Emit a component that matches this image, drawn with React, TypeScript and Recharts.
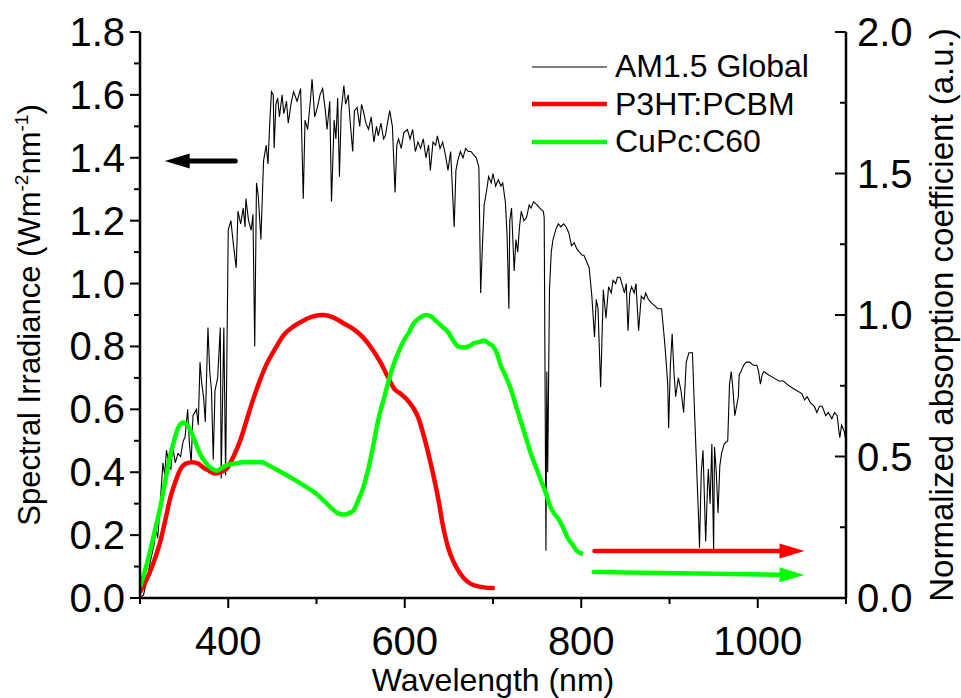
import React from "react";
import { LineChart, Line, XAxis, YAxis, Legend, ReferenceLine } from "recharts";

const FONT = '"Liberation Sans", Arial, Helvetica, sans-serif';

// AM1.5 Global solar spectrum (left axis, W m^-2 nm^-1)
const amWavelength = [
  300, 304, 308, 312, 316, 318, 320, 322, 324, 326, 328, 330, 333, 335, 337, 340, 343, 346, 349, 351,
  354, 356, 358, 360, 364, 366, 368, 370, 372, 374, 377, 379, 381, 383, 385, 388, 391, 392, 395, 397,
  400, 403, 406, 409, 411, 414, 417, 419, 420, 423, 426, 428, 430, 432, 434, 437, 440, 443, 445, 447,
  449, 451, 452, 454, 456, 458, 461, 463, 466, 468, 471, 474, 478, 482, 485, 487, 490, 493, 495, 498,
  501, 504, 507, 510, 512, 515, 517, 520, 522, 524, 526, 528, 531, 533, 536, 538, 541, 543, 546, 549,
  551, 553, 556, 559, 562, 565, 568, 570, 573, 576, 578, 581, 583, 586, 589, 591, 593, 596, 599, 603,
  606, 609, 612, 615, 618, 621, 624, 627, 629, 632, 635, 637, 640, 643, 646, 649, 652, 656, 658, 660,
  663, 666, 669, 672, 675, 678, 681, 684, 686, 688, 690, 693, 695, 698, 700, 703, 706, 709, 711, 714,
  716, 718, 719, 721, 724, 726, 728, 730, 732, 735, 738, 741, 743, 746, 750, 753, 757, 758, 760, 761,
  762, 764, 766, 768, 771, 774, 777, 780, 783, 786, 789, 792, 795, 798, 801, 803, 806, 809, 812, 815,
  817, 819, 822, 825, 828, 831, 834, 836, 839, 841, 844, 847, 849, 851, 853, 855, 857, 860, 862, 865,
  868, 871, 873, 876, 879, 883, 887, 891, 894, 896, 898, 899, 901, 903, 905, 907, 910, 913, 916, 919,
  922, 926, 928, 930, 933, 934, 936, 938, 941, 943, 944, 946, 948, 950, 951, 953, 955, 957, 959, 962,
  966, 968, 970, 972, 974, 976, 978, 979, 981, 984, 987, 991, 995, 999, 1001, 1003, 1005, 1007, 1012, 1018,
  1024, 1029, 1033, 1038, 1044, 1050, 1053, 1056, 1060, 1064, 1067, 1070, 1073, 1077, 1080, 1084, 1087, 1090, 1092, 1093,
  1095, 1098, 1100,
];
const amIrradiance = [
  0.0, 0.01, 0.06, 0.12, 0.17, 0.22, 0.19, 0.26, 0.35, 0.43, 0.39, 0.47, 0.42, 0.41, 0.48, 0.43, 0.46, 0.45, 0.5, 0.51,
  0.6, 0.49, 0.43, 0.58, 0.6, 0.55, 0.75, 0.68, 0.64, 0.56, 0.86, 0.72, 0.66, 0.44, 0.66, 0.7, 0.86, 0.38, 0.86, 0.39,
  1.17, 1.2, 1.12, 1.05, 1.23, 1.19, 1.24, 1.18, 1.27, 1.2, 1.17, 1.22, 0.8, 1.32, 1.28, 1.14, 1.39, 1.44, 1.38, 1.51,
  1.61, 1.6, 1.43, 1.57, 1.59, 1.53, 1.6, 1.54, 1.58, 1.51, 1.57, 1.61, 1.58, 1.62, 1.27, 1.52, 1.49, 1.58, 1.65, 1.53,
  1.56, 1.6, 1.62, 1.55, 1.49, 1.58, 1.26, 1.52, 1.46, 1.59, 1.34, 1.55, 1.63, 1.57, 1.6, 1.52, 1.42, 1.55, 1.56, 1.5,
  1.57, 1.55, 1.51, 1.49, 1.53, 1.45, 1.5, 1.47, 1.51, 1.46, 1.47, 1.52, 1.55, 1.5, 1.29, 1.44, 1.46, 1.43, 1.48, 1.49,
  1.46, 1.49, 1.42, 1.45, 1.43, 1.46, 1.4, 1.44, 1.36, 1.45, 1.44, 1.47, 1.43, 1.45, 1.41, 1.36, 1.42, 1.18, 1.36, 1.39,
  1.42, 1.4, 1.43, 1.42, 1.42, 1.41, 1.4, 1.37, 0.97, 1.12, 1.25, 1.3, 1.34, 1.32, 1.35, 1.31, 1.33, 1.31, 1.32, 1.26,
  1.15, 0.92, 1.2, 1.24, 1.04, 1.14, 1.1, 1.18, 1.23, 1.2, 1.21, 1.25, 1.24, 1.26, 1.25, 1.24, 1.23, 1.21, 0.15, 0.72,
  0.4, 0.98, 1.1, 1.14, 1.17, 1.19, 1.18, 1.19, 1.18, 1.16, 1.12, 1.13, 1.11, 1.1, 1.09, 1.09, 1.07, 1.05, 0.96, 0.83,
  0.95, 0.92, 0.67, 0.98, 0.89, 0.99, 0.97, 1.01, 1.0, 1.02, 1.02, 0.99, 0.97, 1.0, 0.85, 0.97, 0.99, 0.97, 1.0, 0.85,
  0.96, 0.95, 0.97, 0.95, 0.94, 0.93, 0.92, 0.92, 0.83, 0.76, 0.68, 0.54, 0.74, 0.84, 0.72, 0.64, 0.7, 0.66, 0.59, 0.75,
  0.78, 0.78, 0.62, 0.47, 0.25, 0.16, 0.4, 0.47, 0.18, 0.35, 0.41, 0.3, 0.49, 0.15, 0.48, 0.4, 0.27, 0.42, 0.46, 0.49,
  0.5, 0.68, 0.72, 0.66, 0.58, 0.61, 0.64, 0.71, 0.72, 0.74, 0.75, 0.75, 0.74, 0.74, 0.72, 0.68, 0.71, 0.72, 0.71, 0.7,
  0.69, 0.69, 0.68, 0.67, 0.66, 0.65, 0.63, 0.64, 0.62, 0.61, 0.59, 0.61, 0.61, 0.58, 0.59, 0.57, 0.59, 0.58, 0.53, 0.51,
  0.55, 0.53, 0.5,
];

// P3HT:PCBM normalized absorption (right axis)
const p3htWavelength = [
  300, 305, 311, 317, 323, 329, 334, 340, 345, 352, 359, 366, 372, 378, 385, 392, 399, 406, 414, 421,
  428, 436, 444, 453, 463, 474, 485, 496, 508, 520, 531, 542, 553, 563, 573, 581, 588, 596, 603, 610,
  615, 621, 626, 632, 638, 643, 649, 655, 660, 667, 675, 685, 698, 702,
];
const p3htAbsorption = [
  0.02, 0.05, 0.09, 0.14, 0.2, 0.28, 0.35, 0.41, 0.45, 0.475, 0.48, 0.475, 0.46, 0.45, 0.44, 0.445, 0.46, 0.5, 0.56, 0.63,
  0.7, 0.77, 0.83, 0.88, 0.93, 0.96, 0.98, 0.995, 1.0, 0.99, 0.97, 0.95, 0.92, 0.88, 0.83, 0.78, 0.74, 0.72, 0.7, 0.67,
  0.64, 0.58, 0.52, 0.44, 0.35, 0.26, 0.18, 0.13, 0.1, 0.07, 0.05, 0.04, 0.035, 0.035,
];

// CuPc:C60 normalized absorption (right axis)
const cupcWavelength = [
  300, 305, 311, 317, 323, 329, 334, 339, 343, 349, 354, 359, 364, 368, 374, 380, 387, 393, 399, 408,
  417, 428, 438, 445, 451, 463, 474, 487, 499, 508, 516, 524, 531, 537, 542, 548, 553, 559, 565, 570,
  576, 582, 588, 593, 599, 605, 610, 617, 624, 630, 635, 642, 649, 655, 660, 667, 673, 678, 685, 690,
  695, 700, 705, 709, 715, 720, 726, 732, 738, 743, 749, 755, 760, 764, 769, 774, 780, 785, 790, 794,
  798, 802,
];
const cupcAbsorption = [
  0.04, 0.09, 0.16, 0.24, 0.32, 0.42, 0.5, 0.56, 0.6, 0.62, 0.61, 0.58, 0.54, 0.51, 0.48, 0.46, 0.45, 0.46, 0.47, 0.475,
  0.48, 0.48, 0.48, 0.47, 0.46, 0.44, 0.42, 0.395, 0.37, 0.345, 0.32, 0.3, 0.295, 0.3, 0.31, 0.35, 0.39, 0.46, 0.55, 0.63,
  0.7, 0.77, 0.83, 0.87, 0.91, 0.94, 0.97, 0.99, 1.0, 0.995, 0.98, 0.96, 0.94, 0.91, 0.89, 0.885, 0.89, 0.9, 0.905, 0.91,
  0.9, 0.89, 0.86, 0.82, 0.78, 0.74, 0.68, 0.62, 0.56, 0.51, 0.46, 0.41, 0.37, 0.33, 0.3, 0.28, 0.245, 0.21, 0.19, 0.17,
  0.16, 0.155,
];

// axis ticks
const xTicks = [300, 400, 500, 600, 700, 800, 900, 1000, 1100];
const xLabelled = [400, 600, 800, 1000];
const leftTicks = [0, 0.1, 0.2, 0.3, 0.4, 0.5, 0.6, 0.7, 0.8, 0.9, 1.0, 1.1, 1.2, 1.3, 1.4, 1.5, 1.6, 1.7, 1.8];
const rightTicks = [0, 0.25, 0.5, 0.75, 1.0, 1.25, 1.5, 1.75, 2.0];

// arrows: [start nm, start value] -> [end nm, end value]
const leftArrow = [
  { x: 408, y: 1.39 },
  { x: 328, y: 1.39 },
];
const redArrow = [
  { x: 815, y: 0.166 },
  { x: 1053, y: 0.166 },
];
const greenArrow = [
  { x: 814, y: 0.092 },
  { x: 1053, y: 0.081 },
];

const seriesNames = ["AM1.5 Global", "P3HT:PCBM", "CuPc:C60"];
const seriesColors = ["#000000", "#ff0000", "#00ff00"];
const seriesWidths = [1.1, 4.5, 4.5];

const toPoints = (xs: number[], ys: number[]) => xs.map((nm, i) => ({ nm, v: ys[i] }));
const amData = toPoints(amWavelength, amIrradiance);
const p3htData = toPoints(p3htWavelength, p3htAbsorption);
const cupcData = toPoints(cupcWavelength, cupcAbsorption);

const BottomTick = (props: any) => {
  const { x, y, payload } = props;
  const major = xLabelled.includes(payload.value);
  return (
    <g>
      <line x1={x} x2={x} y1={y} y2={y + (major ? 10 : 6)} stroke="#000" strokeWidth={2} />
      {major && (
        <text x={x} y={y} dy={57} textAnchor="middle" fontSize={40} fontFamily={FONT} fill="#000">
          {payload.value}
        </text>
      )}
    </g>
  );
};

const TopTick = (props: any) => {
  const { x, y, payload } = props;
  const major = xLabelled.includes(payload.value);
  return <line x1={x} x2={x} y1={y} y2={y + (major ? 11 : 6)} stroke="#000" strokeWidth={2} />;
};

const LeftTick = (props: any) => {
  const { x, y, payload } = props;
  const v = payload.value as number;
  const major = Math.round(v * 10) % 2 === 0;
  return (
    <g>
      <line x1={x - (major ? 10 : 6)} x2={x} y1={y} y2={y} stroke="#000" strokeWidth={2} />
      {major && (
        <text x={x - 15} y={y} dy={14} textAnchor="end" fontSize={40} fontFamily={FONT} fill="#000">
          {v.toFixed(1)}
        </text>
      )}
    </g>
  );
};

const RightTick = (props: any) => {
  const { x, y, payload } = props;
  const v = payload.value as number;
  const major = Math.round(v * 100) % 50 === 0;
  return (
    <g>
      <line x1={x - (major ? 11 : 6)} x2={x} y1={y} y2={y} stroke="#000" strokeWidth={2} />
      {major && (
        <text x={x + 11} y={y} dy={14} textAnchor="start" fontSize={40} fontFamily={FONT} fill="#000">
          {v.toFixed(1)}
        </text>
      )}
    </g>
  );
};

function arrowShape(color: string, width: number) {
  return (props: any) => {
    const { x1, y1, x2, y2 } = props;
    const ang = Math.atan2(y2 - y1, x2 - x1);
    const len = 25;
    const half = 7.5;
    const bx = x2 - len * Math.cos(ang);
    const by = y2 - len * Math.sin(ang);
    const px = -Math.sin(ang) * half;
    const py = Math.cos(ang) * half;
    return (
      <g>
        <line x1={x1} y1={y1} x2={bx} y2={by} stroke={color} strokeWidth={width} strokeLinecap="round" />
        <polygon points={`${x2},${y2} ${bx + px},${by + py} ${bx - px},${by - py}`} fill={color} />
      </g>
    );
  };
}

const renderLegend = (props: any) => {
  // keep the series order, not the alphabetical one
  const items = [...(props.payload || [])].sort(
    (a: any, b: any) => seriesNames.indexOf(a.value) - seriesNames.indexOf(b.value)
  );
  return (
    <div style={{ fontFamily: FONT, fontSize: 32, color: "#000" }}>
      {items.map((entry: any, i: number) => {
        const idx = seriesNames.indexOf(entry.value);
        return (
          <div key={i} style={{ display: "flex", alignItems: "center", height: 37.5 }}>
            <svg width={75} height={12} style={{ display: "block" }}>
              <line x1={0} y1={6} x2={75} y2={6} stroke={seriesColors[idx]} strokeWidth={seriesWidths[idx]} />
            </svg>
            <span style={{ marginLeft: 8, lineHeight: "37.5px" }}>{entry.value}</span>
          </div>
        );
      })}
    </div>
  );
};

const XTitle = (props: any) => {
  const vb = props.viewBox;
  return (
    <text x={vb.x + vb.width / 2} y={vb.y + 93} textAnchor="middle" fontSize={32} fontFamily={FONT} fill="#000">
      Wavelength (nm)
    </text>
  );
};

const LeftTitle = (props: any) => {
  const vb = props.viewBox;
  const cx = vb.x + 40;
  const cy = vb.y + vb.height / 2;
  return (
    <text
      x={cx}
      y={cy}
      transform={`rotate(-90 ${cx} ${cy})`}
      textAnchor="middle"
      fontSize={31}
      fontFamily={FONT}
      fill="#000"
    >
      Spectral Irradiance (Wm
      <tspan fontSize={19} dy={-12}>-2</tspan>
      <tspan dy={12}>nm</tspan>
      <tspan fontSize={19} dy={-12}>-1</tspan>
      <tspan dy={12}>)</tspan>
    </text>
  );
};

const RightTitle = (props: any) => {
  const vb = props.viewBox;
  const cx = vb.x + 107;
  const cy = vb.y + vb.height / 2;
  return (
    <text
      x={cx}
      y={cy}
      transform={`rotate(-90 ${cx} ${cy})`}
      textAnchor="middle"
      fontSize={33}
      fontFamily={FONT}
      fill="#000"
    >
      Normalized absorption coefficient (a.u.)
    </text>
  );
};

export default function App() {
  const axisLine = { stroke: "#000", strokeWidth: 2.5 };
  return (
    <div style={{ position: "absolute", left: 0, top: 0, background: "#fff" }}>
      <LineChart width={961} height={698} margin={{ top: 32, right: 0, bottom: 0, left: 0 }}>
        <XAxis
          xAxisId="b"
          dataKey="nm"
          type="number"
          domain={[300, 1100]}
          ticks={xTicks}
          interval={0}
          height={100}
          tickSize={0}
          tickMargin={0}
          tickLine={false}
          tick={<BottomTick />}
          axisLine={axisLine}
          label={<XTitle />}
          allowDataOverflow
        />
        <XAxis
          xAxisId="top"
          orientation="top"
          type="number"
          domain={[300, 1100]}
          ticks={xTicks}
          interval={0}
          height={0}
          tickSize={0}
          tickMargin={0}
          tickLine={false}
          tick={<TopTick />}
          axisLine={axisLine}
          allowDataOverflow
        />
        <YAxis
          yAxisId="left"
          type="number"
          domain={[0, 1.8]}
          ticks={leftTicks}
          interval={0}
          width={140}
          tickSize={0}
          tickMargin={0}
          tickLine={false}
          tick={<LeftTick />}
          axisLine={axisLine}
          label={<LeftTitle />}
          allowDataOverflow
        />
        <YAxis
          yAxisId="right"
          orientation="right"
          type="number"
          domain={[0, 2]}
          ticks={rightTicks}
          interval={0}
          width={115}
          tickSize={0}
          tickMargin={0}
          tickLine={false}
          tick={<RightTick />}
          axisLine={axisLine}
          label={<RightTitle />}
          allowDataOverflow
        />
        <Legend
          content={renderLegend}
          layout="horizontal"
          verticalAlign="middle"
          align="center"
          wrapperStyle={{ left: 532, top: 48, width: 300 }}
        />
        <Line
          xAxisId="b"
          yAxisId="left"
          data={amData}
          dataKey="v"
          name={seriesNames[0]}
          type="linear"
          stroke={seriesColors[0]}
          strokeWidth={seriesWidths[0]}
          dot={false}
          activeDot={false}
          isAnimationActive={false}
        />
        <Line
          xAxisId="b"
          yAxisId="right"
          data={p3htData}
          dataKey="v"
          name={seriesNames[1]}
          type="monotone"
          stroke={seriesColors[1]}
          strokeWidth={seriesWidths[1]}
          dot={false}
          activeDot={false}
          isAnimationActive={false}
        />
        <Line
          xAxisId="b"
          yAxisId="right"
          data={cupcData}
          dataKey="v"
          name={seriesNames[2]}
          type="monotone"
          stroke={seriesColors[2]}
          strokeWidth={seriesWidths[2]}
          dot={false}
          activeDot={false}
          isAnimationActive={false}
        />
        <ReferenceLine xAxisId="b" yAxisId="left" segment={leftArrow} shape={arrowShape("#000", 5)} />
        <ReferenceLine xAxisId="b" yAxisId="right" segment={redArrow} shape={arrowShape("#ff0000", 4.5)} />
        <ReferenceLine xAxisId="b" yAxisId="right" segment={greenArrow} shape={arrowShape("#00ff00", 4.5)} />
      </LineChart>
    </div>
  );
}
